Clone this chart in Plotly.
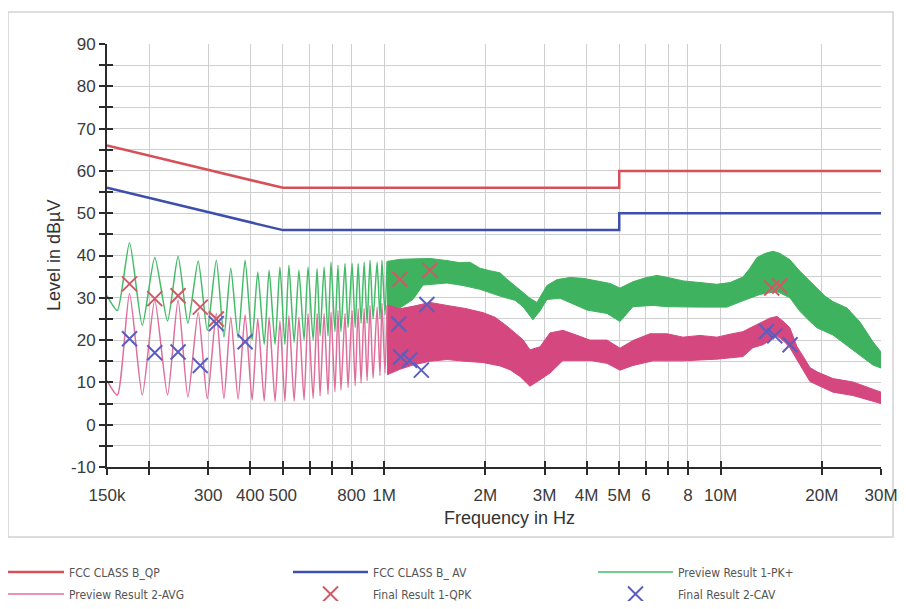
import math
import plotly.graph_objects as go

# ---------------- data ----------------
# limit lines
qp_freq = [150e3, 500e3, 5e6, 5e6, 30e6]
qp_level = [66, 56, 56, 60, 60]
av_freq = [150e3, 500e3, 5e6, 5e6, 30e6]
av_level = [56, 46, 46, 50, 50]

# Preview Result 1-PK+ : low-frequency comb (peaks / troughs)
pk_comb_freq = [150e3, 161e3, 175e3, 191e3, 208e3, 227e3, 244e3, 261e3, 280e3, 298e3,
                317e3, 334e3, 350e3, 368e3, 386e3, 405e3, 421e3, 440e3, 455e3, 474e3,
                490e3, 507e3, 521e3, 540e3, 558e3, 578e3, 594e3, 615e3, 632e3, 645e3,
                663e3, 681e3, 695e3, 714e3, 729e3, 744e3, 765e3, 781e3, 803e3, 820e3,
                837e3, 854e3, 872e3, 890e3, 908e3, 927e3, 953e3, 972e3, 985e3, 1006e3, 1020e3]
pk_comb_level = [30.5, 27, 43, 23.5, 39.5, 24.5, 39.8, 24, 38.7, 22.3,
                 38.9, 20.7, 37, 20.5, 38.9, 20, 36.1, 19, 36.5, 19,
                 37.3, 19, 37.7, 19.5, 36.5, 20, 37.3, 20, 36.9, 21,
                 37.3, 21, 38.4, 22, 37.7, 22, 38.1, 23, 38.1, 23,
                 38.1, 24, 38.4, 24, 38.9, 25, 38.4, 25, 38.9, 26, 38.6]

# PK+ dense region envelope
pk_up_freq = [1020e3, 1114e3, 1218e3, 1369e3, 1538e3, 1680e3, 1800e3, 1927e3, 2064e3, 2210e3,
              2318e3, 2449e3, 2587e3, 2713e3, 2846e3, 3048e3, 3265e3, 3568e3, 3902e3, 4235e3,
              4693e3, 5025e3, 5492e3, 5963e3, 6473e3, 7075e3, 7734e3, 8688e3, 9760e3, 10.67e6,
              11.66e6, 12.23e6, 12.83e6, 13.56e6, 14.32e6, 15.02e6, 16.08e6, 17.22e6, 18.45e6, 19.36e6,
              20.44e6, 21.59e6, 23.76e6, 25.97e6, 27.25e6, 28.39e6, 30e6]
pk_up_level = [38.6, 39.1, 39.2, 39.3, 38.8, 38.3, 38.4, 37.0, 36.4, 35.9,
               34.4, 32.9, 31.4, 29.9, 28.9, 32.9, 34.3, 34.8, 34.6, 34.1,
               33.4, 32.3, 33.8, 34.7, 35.3, 34.7, 34.0, 33.6, 33.2, 33.6,
               34.9, 37.0, 39.5, 40.5, 41.0, 40.5, 39.0, 36.3, 34.0, 32.3,
               30.4, 29.1, 27.6, 24.3, 21.9, 19.6, 17.2]
pk_lo_freq = [1020e3, 1114e3, 1218e3, 1305e3, 1538e3, 1715e3, 1927e3, 2210e3, 2449e3, 2587e3,
              2769e3, 2906e3, 3048e3, 3333e3, 3693e3, 4010e3, 4597e3, 5025e3, 5492e3, 6298e3,
              6931e3, 7734e3, 8688e3, 10.45e6, 11.66e6, 13.10e6, 14.72e6, 16.08e6, 17.22e6, 18.45e6,
              19.36e6, 21.59e6, 23.76e6, 25.97e6, 28.39e6, 30e6]
pk_lo_level = [26.6, 27.6, 29.6, 33.0, 33.5, 32.9, 32.0, 30.4, 29.4, 27.9,
               24.8, 26.9, 29.6, 29.9, 28.3, 27.1, 26.3, 24.4, 27.9, 28.2,
               27.9, 27.9, 27.8, 27.8, 29.3, 30.8, 31.5, 30.0, 26.8, 24.4,
               22.9, 21.2, 18.8, 16.4, 14.1, 13.4]

# Preview Result 2-AVG : low-frequency comb
avg_comb_freq = pk_comb_freq
avg_comb_level = [10.4, 7, 31, 7, 29.5, 7, 29.5, 6.5, 26.5, 6.2,
                  26.3, 6.2, 25.4, 6.0, 26, 5.8, 25.1, 5.6, 25.4, 5.5,
                  24.6, 5.5, 25.8, 5.6, 25.4, 5.8, 26.3, 6.2, 26.3, 6.8,
                  26.3, 7.2, 26.6, 7.8, 27, 8.2, 26.3, 8.8, 27, 9.2,
                  27.5, 9.8, 27.5, 10.4, 28.2, 11, 27.8, 11.6, 28.7, 12.2, 28.3]

# AVG dense region envelope
avg_up_freq = [1020e3, 1114e3, 1235e3, 1369e3, 1538e3, 1739e3, 1967e3, 2136e3, 2318e3, 2449e3,
               2587e3, 2713e3, 2906e3, 3112e3, 3402e3, 3693e3, 4092e3, 4597e3, 5025e3, 5492e3,
               6170e3, 6931e3, 7734e3, 8688e3, 9760e3, 10.67e6, 11.66e6, 12.48e6, 13.37e6, 14.03e6,
               14.72e6, 15.33e6, 16.08e6, 16.87e6, 17.82e6, 18.45e6, 19.36e6, 21.59e6, 24.76e6, 27.25e6, 30e6]
avg_up_level = [28.3, 27.4, 28.1, 28.9, 28.2, 27.5, 26.5, 25.4, 23.3, 21.7,
                20.1, 17.7, 18.4, 21.7, 22.3, 21.3, 20.0, 20.0, 18.1, 19.9,
                21.5, 21.5, 20.7, 21.1, 20.7, 21.4, 22.0, 23.2, 24.4, 25.2,
                25.6, 24.5, 22.9, 18.5, 15.5, 13.5, 12.5, 10.9, 10.1, 8.9, 7.7]
avg_lo_freq = [1020e3, 1114e3, 1218e3, 1369e3, 1538e3, 1739e3, 1967e3, 2210e3, 2366e3, 2534e3,
               2713e3, 2906e3, 3112e3, 3402e3, 4092e3, 4597e3, 5025e3, 5492e3, 6298e3, 7734e3,
               9760e3, 11.66e6, 12.48e6, 13.37e6, 14.72e6, 15.54e6, 16.08e6, 17.22e6, 18.45e6, 19.36e6,
               21.59e6, 24.76e6, 27.25e6, 30e6]
avg_lo_level = [11.8, 13.1, 14.1, 15.0, 15.4, 15.0, 14.7, 13.9, 13.0, 11.4,
                9.1, 10.6, 12.2, 15.2, 15.2, 14.5, 12.9, 14.0, 15.1, 15.1,
                15.5, 16.1, 18.2, 18.9, 21.0, 19.5, 18.2, 14.2, 10.2, 9.4,
                7.7, 6.9, 5.9, 5.0]

# Final results
qpk_freq = [175e3, 208e3, 244e3, 284e3, 317e3, 1114e3, 1369e3, 14.2e6, 15.0e6]
qpk_level = [33.3, 29.8, 30.5, 27.8, 25.0, 34.4, 36.5, 32.3, 32.8]
cav_freq = [175e3, 208e3, 244e3, 284e3, 317e3, 386e3, 1105e3, 1340e3, 1120e3, 1190e3, 1290e3,
            13.7e6, 14.5e6, 16.1e6]
cav_level = [20.3, 17.0, 17.2, 14.0, 23.9, 19.6, 23.8, 28.4, 16.0, 15.2, 12.9,
             22.0, 21.0, 18.9]

# axis ticks
x_tickvals = [150e3, 200e3, 300e3, 400e3, 500e3, 600e3, 700e3, 800e3, 1e6,
              2e6, 3e6, 4e6, 5e6, 6e6, 7e6, 8e6, 10e6, 20e6, 30e6]
x_ticktext = ["150k", "", "300", "400", "500", "", "", "800", "1M",
              "2M", "3M", "4M", "5M", "6", "", "8", "10M", "20M", "30M"]
y_tickvals = list(range(-10, 95, 5))
y_ticktext = [str(v) if v % 10 == 0 else "" for v in y_tickvals]

# ---------------- styling ----------------
RED = "#d6505a"
BLUE = "#3d4fae"
GREEN = "#44bb68"
GREEN_BAND = "#3fb25f"
PINK = "#de6f9c"
PINK_BAND = "#d4477f"
QPK_COL = "#cf5a66"
CAV_COL = "#5a5ec0"
FONT = "Liberation Sans, Arial, sans-serif"
LEG_FONT = "Liberation Sans Narrow, DejaVu Sans Condensed, Arial Narrow, sans-serif"

# the page body adds an 8 px margin, so the figure is 16 px smaller and all
# layout positions below are given in window pixels minus that offset
OFF = 8
FIG_W, FIG_H = 906 - 2 * OFF, 609 - 2 * OFF
PLOT_L, PLOT_R, PLOT_T, PLOT_B = 107 - OFF, 881 - OFF, 44 - OFF, 467 - OFF
PW, PH = PLOT_R - PLOT_L, PLOT_B - PLOT_T


def px_x(p):
    return (p - OFF - PLOT_L) / PW


def px_y(p):
    return (PLOT_B - (p - OFF)) / PH


fig = go.Figure()

# dense bands (drawn first, under the comb lines)
fig.add_trace(go.Scatter(
    x=pk_up_freq + pk_lo_freq[::-1], y=pk_up_level + pk_lo_level[::-1],
    fill="toself", fillcolor=GREEN_BAND, mode="lines",
    line=dict(color=GREEN_BAND, width=1), showlegend=False, hoverinfo="skip"))
fig.add_trace(go.Scatter(
    x=avg_up_freq + avg_lo_freq[::-1], y=avg_up_level + avg_lo_level[::-1],
    fill="toself", fillcolor=PINK_BAND, mode="lines",
    line=dict(color=PINK_BAND, width=1), showlegend=False, hoverinfo="skip"))

fig.add_trace(go.Scatter(x=qp_freq, y=qp_level, mode="lines", name="FCC CLASS B_QP",
                         line=dict(color=RED, width=2.5), legend="legend"))
fig.add_trace(go.Scatter(x=av_freq, y=av_level, mode="lines", name="FCC CLASS B_ AV",
                         line=dict(color=BLUE, width=2.5), legend="legend2"))
fig.add_trace(go.Scatter(x=pk_comb_freq, y=pk_comb_level, mode="lines", name="Preview Result 1-PK+",
                         line=dict(color=GREEN, width=1.5, shape="spline", smoothing=0.6),
                         legend="legend3"))
fig.add_trace(go.Scatter(x=avg_comb_freq, y=avg_comb_level, mode="lines", name="Preview Result 2-AVG",
                         line=dict(color=PINK, width=1.5, shape="spline", smoothing=0.6),
                         legend="legend4"))
fig.add_trace(go.Scatter(x=qpk_freq, y=qpk_level, mode="markers", name="Final Result 1-QPK",
                         marker=dict(symbol="x-thin", size=15, line=dict(width=2, color=QPK_COL)),
                         legend="legend5"))
fig.add_trace(go.Scatter(x=cav_freq, y=cav_level, mode="markers", name="Final Result 2-CAV",
                         marker=dict(symbol="x-thin", size=15, line=dict(width=2, color=CAV_COL)),
                         legend="legend6"))

# empty trace so the overlay axes (inner half of the crossing ticks) exist
fig.add_trace(go.Scatter(x=[], y=[], xaxis="x2", yaxis="y2", showlegend=False, hoverinfo="skip"))

xr = [math.log10(150e3), math.log10(30e6)]

axis_common = dict(showline=True, linecolor="#2b2b2b", linewidth=2, tickcolor="#2b2b2b",
                   tickwidth=2, ticklen=6, tickfont=dict(family=FONT, size=17, color="#3a3a3a"))


def leg(x_px, y_px):
    return dict(orientation="v", xanchor="left", yanchor="middle",
                x=px_x(x_px), y=px_y(y_px), itemwidth=75,
                font=dict(family=LEG_FONT, size=12, color="#555555"),
                bgcolor="rgba(0,0,0,0)")


# legend text starts ~84 px after the legend's left edge
col_x = [68 - 84, 372 - 84, 677 - 84]
row_y = [572, 594]

fig.update_layout(
    width=FIG_W, height=FIG_H,
    margin=dict(l=PLOT_L, r=FIG_W - PLOT_R, t=PLOT_T, b=FIG_H - PLOT_B, autoexpand=False),
    paper_bgcolor="white", plot_bgcolor="white",
    showlegend=True,
    xaxis=dict(type="log", range=xr, tickmode="array", tickvals=x_tickvals, ticktext=x_ticktext,
               ticks="outside", showgrid=True, gridcolor="#cfcfcf", gridwidth=1,
               ticklabelstandoff=6, zeroline=False, **axis_common),
    yaxis=dict(range=[-10, 90], tickmode="array", tickvals=y_tickvals, ticktext=y_ticktext,
               ticks="outside", showgrid=True, gridcolor="#cfcfcf", gridwidth=1,
               zeroline=False, **axis_common),
    xaxis2=dict(type="log", range=xr, overlaying="x", anchor="y", tickmode="array",
                tickvals=x_tickvals, ticks="inside", ticklen=6, tickwidth=2, tickcolor="#2b2b2b",
                showticklabels=False, showgrid=False, showline=False, zeroline=False),
    yaxis2=dict(range=[-10, 90], overlaying="y", anchor="x", tickmode="array",
                tickvals=y_tickvals, ticks="inside", ticklen=6, tickwidth=2, tickcolor="#2b2b2b",
                showticklabels=False, showgrid=False, showline=False, zeroline=False),
    legend=leg(col_x[0], row_y[0]),
    legend2=leg(col_x[1], row_y[0]),
    legend3=leg(col_x[2], row_y[0]),
    legend4=leg(col_x[0], row_y[1]),
    legend5=leg(col_x[1], row_y[1]),
    legend6=leg(col_x[2], row_y[1]),
    annotations=[
        dict(text="Level in dBµV", textangle=-90, xref="paper", yref="paper",
             x=px_x(54), y=px_y(256), xanchor="center", yanchor="middle", showarrow=False,
             font=dict(family=FONT, size=18, color="#333333")),
        dict(text="Frequency in Hz", xref="paper", yref="paper",
             x=px_x(510), y=px_y(518), xanchor="center", yanchor="middle", showarrow=False,
             font=dict(family=FONT, size=18, color="#333333")),
    ],
    shapes=[
        dict(type="rect", xref="paper", yref="paper", x0=px_x(8), x1=px_x(893),
             y0=px_y(537), y1=px_y(12),
             line=dict(color="#d2d2d2", width=1.5), fillcolor="rgba(0,0,0,0)", layer="below"),
    ],
)

fig.write_html("out.html")
